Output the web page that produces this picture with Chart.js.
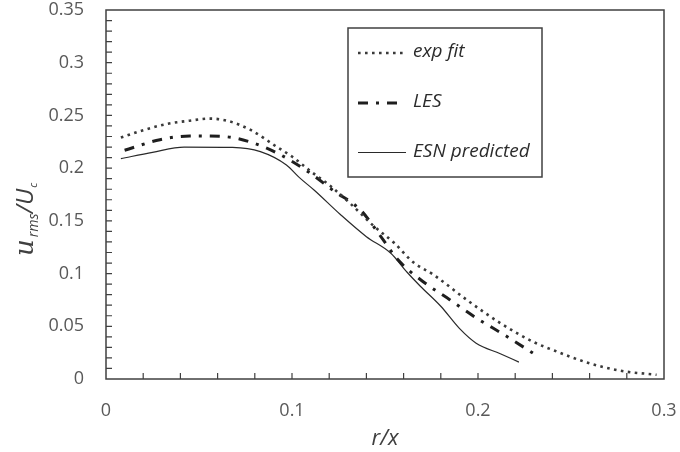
<!DOCTYPE html>
<html>
<head>
<meta charset="utf-8">
<script src="https://cdn.jsdelivr.net/npm/chart.js@4/dist/chart.umd.min.js"></script>
<style>
    html, body { margin: 0; padding: 0; background: #fff; }
    #wrap { width: 680px; height: 452px; }
</style>
</head>
<body>
<div id="wrap"><canvas id="chart"></canvas></div>
<script>
// values
const expFitX = [0.008, 0.02, 0.033, 0.045, 0.056, 0.065, 0.078, 0.092, 0.1, 0.11, 0.12, 0.131, 0.144, 0.155, 0.165, 0.176, 0.194, 0.212, 0.23, 0.241, 0.258, 0.276, 0.296];
const expFitY = [0.229, 0.236, 0.242, 0.245, 0.247, 0.245, 0.236, 0.220, 0.211, 0.197, 0.184, 0.167, 0.145, 0.129, 0.111, 0.099, 0.075, 0.053, 0.035, 0.027, 0.016, 0.008, 0.004];

const lesX = [0.01, 0.029, 0.045, 0.063, 0.079, 0.094, 0.11, 0.122, 0.137, 0.147, 0.157, 0.17, 0.185, 0.199, 0.214, 0.23];
const lesY = [0.217, 0.227, 0.2305, 0.230, 0.224, 0.2125, 0.195, 0.179, 0.160, 0.137, 0.113, 0.093, 0.075, 0.058, 0.042, 0.024];

const esnX = [0.008, 0.025, 0.042, 0.068, 0.083, 0.097, 0.104, 0.112, 0.126, 0.14, 0.153, 0.162, 0.169, 0.18, 0.19, 0.199, 0.212, 0.222];
const esnY = [0.209, 0.215, 0.220, 0.2197, 0.2157, 0.203, 0.191, 0.179, 0.156, 0.135, 0.1195, 0.101, 0.088, 0.069, 0.048, 0.034, 0.024, 0.016];

const seriesLabels = ['exp fit', 'LES', 'ESN predicted'];
const xLabelTicks = [0, 0.1, 0.2, 0.3];
const yLabelTicks = [0, 0.05, 0.1, 0.15, 0.2, 0.25, 0.3, 0.35];

const axisColor = '#404040';
const textColor = '#595959';

function toPoints(xs, ys) {
    return xs.map((x, i) => ({ x: x, y: ys[i] }));
}

function isLabelTick(v, list) {
    return list.some(t => Math.abs(t - v) < 1e-6);
}

// box round the plot, inward ticks, y title and legend
const frame = {
    id: 'frame',
    afterDraw(chart) {
        const ctx = chart.ctx;
        const a = chart.chartArea;
        const xs = chart.scales.x;
        const ys = chart.scales.y;
        ctx.save();
        ctx.strokeStyle = axisColor;
        ctx.lineWidth = 1.5;
        ctx.strokeRect(a.left, a.top, a.right - a.left, a.bottom - a.top);

        ctx.lineWidth = 1.2;
        ctx.beginPath();
        xs.ticks.forEach((t, i) => {
            const px = xs.getPixelForTick(i);
            if (px <= a.left + 1 || px >= a.right - 1) return;
            ctx.moveTo(px, a.bottom);
            ctx.lineTo(px, a.bottom - 6);
        });
        ys.ticks.forEach((t, i) => {
            const py = ys.getPixelForTick(i);
            if (py <= a.top + 1 || py >= a.bottom - 1) return;
            ctx.moveTo(a.left, py);
            ctx.lineTo(a.left + 6, py);
        });
        ctx.stroke();

        // y axis title u_rms / U_c
        ctx.translate(33, 256);
        ctx.rotate(-Math.PI / 2);
        ctx.fillStyle = '#404040';
        ctx.textBaseline = 'alphabetic';
        ctx.textAlign = 'left';
        let x = 0;
        ctx.font = 'italic 26px "DejaVu Serif"';
        ctx.fillText('u', x, 0);
        x += ctx.measureText('u').width + 2;
        ctx.font = 'italic 14px "Open Sans"';
        ctx.fillText('rms', x, 5);
        x += ctx.measureText('rms').width;
        ctx.font = 'italic 24px "Open Sans"';
        ctx.fillText('/U', x, 0);
        x += ctx.measureText('/U').width + 1;
        ctx.font = 'italic 11px "Open Sans"';
        ctx.fillText('c', x, 4);
        ctx.restore();

        // legend box
        ctx.save();
        ctx.strokeStyle = axisColor;
        ctx.lineWidth = 1.5;
        ctx.strokeRect(348, 28, 194, 149);
        const rows = [53, 103, 152.5];
        chart.data.datasets.forEach((ds, i) => {
            const y = rows[i];
            ctx.strokeStyle = ds.borderColor;
            ctx.lineWidth = ds.borderWidth;
            ctx.setLineDash(ds.borderDash || []);
            ctx.beginPath();
            ctx.moveTo(358, y);
            ctx.lineTo(i === 1 ? 401 : 406, y);
            ctx.stroke();
            ctx.setLineDash([]);
            ctx.fillStyle = '#2b2b2b';
            ctx.font = 'italic 19px "Open Sans"';
            ctx.textBaseline = 'middle';
            ctx.fillText(ds.label, 413, y - 1);
        });
        ctx.restore();
    }
};

const ctx = document.getElementById('chart').getContext('2d');
new Chart(ctx, {
    type: 'scatter',
    data: {
        datasets: [
            {
                label: seriesLabels[0],
                data: toPoints(expFitX, expFitY),
                showLine: true,
                borderColor: '#3a3a3a',
                borderWidth: 2.6,
                borderDash: [2.6, 4.4],
                pointRadius: 0,
                cubicInterpolationMode: 'monotone'
            },
            {
                label: seriesLabels[1],
                data: toPoints(lesX, lesY),
                showLine: true,
                borderColor: '#1e1e1e',
                borderWidth: 3,
                borderDash: [10, 8, 3, 8],
                pointRadius: 0,
                cubicInterpolationMode: 'monotone'
            },
            {
                label: seriesLabels[2],
                data: toPoints(esnX, esnY),
                showLine: true,
                borderColor: '#2a2a2a',
                borderWidth: 1.2,
                pointRadius: 0,
                cubicInterpolationMode: 'monotone'
            }
        ]
    },
    options: {
        responsive: true,
        maintainAspectRatio: false,
        animation: false,
        layout: { padding: { top: 10, right: 16, left: 0, bottom: 0 } },
        plugins: {
            legend: { display: false },
            tooltip: { enabled: false }
        },
        scales: {
            x: {
                type: 'linear',
                min: 0,
                max: 0.3,
                afterFit: s => {
                    s.height = 73;
                    s.paddingLeft = 0;
                    s.paddingRight = 0;
                },
                border: { display: false },
                grid: { drawOnChartArea: false, drawTicks: false },
                ticks: {
                    stepSize: 0.02,
                    autoSkip: false,
                    maxRotation: 0,
                    padding: 21,
                    color: textColor,
                    font: { family: 'Open Sans', size: 18 },
                    callback: v => isLabelTick(v, xLabelTicks) ? String(Math.round(v * 10) / 10) : ''
                },
                title: {
                    display: true,
                    text: 'r/x',
                    color: '#404040',
                    font: { family: 'Open Sans', size: 22, style: 'italic' },
                    padding: { top: 2, bottom: 0 }
                }
            },
            y: {
                type: 'linear',
                min: 0,
                max: 0.35,
                afterFit: s => {
                    s.width = 106;
                    s.paddingTop = 0;
                    s.paddingBottom = 0;
                },
                border: { display: false },
                grid: { drawOnChartArea: false, drawTicks: false },
                ticks: {
                    stepSize: 0.01,
                    autoSkip: false,
                    padding: 22,
                    color: textColor,
                    font: { family: 'Open Sans', size: 18 },
                    callback: v => isLabelTick(v, yLabelTicks) ? String(Math.round(v * 100) / 100) : ''
                }
            }
        }
    },
    plugins: [frame]
});
</script>
</body>
</html>
